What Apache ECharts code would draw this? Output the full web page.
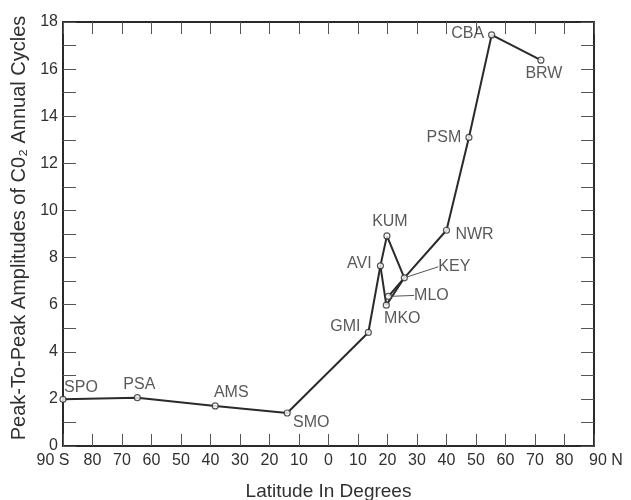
<!DOCTYPE html>
<html>
<head>
<meta charset="utf-8">
<script src="https://cdn.jsdelivr.net/npm/echarts@6/dist/echarts.min.js"></script>
<style>
  html, body { margin: 0; padding: 0; background: #fff; }
  #chart { width: 631px; height: 500px; }
</style>
</head>
<body>
<div id="chart"></div>
<script>
// Monitoring stations, their latitude (negative = south) and the
// peak-to-peak amplitude of the seasonal CO2 cycle (ppm).
const stations  = ['SPO', 'PSA', 'AMS', 'SMO', 'GMI', 'AVI', 'KUM', 'MKO', 'MLO', 'KEY', 'NWR', 'PSM', 'CBA', 'BRW'];
const latitude  = [-90, -64.8, -38.4, -14.0, 13.5, 17.6, 19.8, 19.6, 20.3, 25.7, 40.0, 47.6, 55.3, 72.0];
const amplitude = [1.98, 2.05, 1.70, 1.40, 4.82, 7.65, 8.92, 5.98, 6.35, 7.14, 9.16, 13.1, 17.45, 16.38];

// Order in which the stations are joined by line segments.
const mainPath = ['SPO', 'PSA', 'AMS', 'SMO', 'GMI', 'AVI', 'KUM', 'KEY', 'NWR', 'PSM', 'CBA', 'BRW'];
const branchA  = ['AVI', 'MKO', 'KEY'];
const branchB  = ['MLO', 'KEY'];

// Axis ranges and tick spacing.
const latRange = [-90, 90];
const latStep  = 10;
const ampRange = [0, 18];
const ampStep  = 1;

// Label placement for each station (pixel shift from the marker centre).
const labelShift = {
  SPO: [18, -12], PSA: [2, -13], AMS: [16, -13], SMO: [24, 10],
  GMI: [-23, -6], AVI: [-21, -2], KUM: [3, -14], MKO: [16, 13],
  MLO: [43, -1], KEY: [50, -11], NWR: [28, 4], PSM: [-25, 0],
  CBA: [-24, -1], BRW: [3, 13]
};
const leaderLabels = ['KEY', 'MLO'];

const FONT = 'Liberation Sans, Arial, Helvetica, sans-serif';
const INK = '#2a2a2a';
const TEXT = '#303030';

function pathData(names) {
  return names.map(n => {
    const i = stations.indexOf(n);
    return [latitude[i], amplitude[i]];
  });
}

const pointData = stations.map((s, i) => {
  const item = { name: s, value: [latitude[i], amplitude[i]] };
  if (leaderLabels.includes(s)) {
    item.labelLine = { show: true, length2: 0, lineStyle: { color: '#555', width: 1 } };
  }
  return item;
});

function lineSeries(names) {
  return {
    type: 'line',
    data: pathData(names),
    showSymbol: false,
    symbol: 'none',
    silent: true,
    z: 3,
    lineStyle: { color: INK, width: 2 },
    animation: false
  };
}

const commonTick = { show: true, inside: true, lineStyle: { color: '#555', width: 1 } };
const frameLine = { show: true, onZero: false, lineStyle: { color: INK, width: 2 } };

const chart = echarts.init(document.getElementById('chart'), null, { renderer: 'canvas' });
chart.setOption({
  backgroundColor: '#fff',
  animation: false,
  grid: { left: 63, right: 37, top: 22, bottom: 54, containLabel: false, outerBoundsMode: 'none' },
  xAxis: [
    {
      type: 'value', position: 'bottom',
      min: latRange[0], max: latRange[1], interval: latStep,
      axisLine: frameLine,
      axisTick: Object.assign({ length: 12 }, commonTick),
      splitLine: { show: false },
      axisLabel: {
        margin: 7, fontSize: 16, fontFamily: FONT, color: TEXT,
        formatter: v => v === -90 ? '{s|90 S}' : v === 90 ? '{n|90 N}' : String(Math.abs(v)),
        rich: {
          s: { fontSize: 16, fontFamily: FONT, color: TEXT, padding: [0, 20, 0, 0] },
          n: { fontSize: 16, fontFamily: FONT, color: TEXT, padding: [0, 0, 0, 24] }
        }
      },
      name: 'Latitude In Degrees', nameLocation: 'middle', nameGap: 36,
      nameTextStyle: { fontSize: 19, fontFamily: FONT, color: TEXT }
    },
    {
      type: 'value', position: 'top',
      min: latRange[0], max: latRange[1], interval: latStep,
      axisLine: frameLine,
      axisTick: Object.assign({ length: 12 }, commonTick),
      splitLine: { show: false },
      axisLabel: { show: false }
    }
  ],
  yAxis: [
    {
      type: 'value', position: 'left',
      min: ampRange[0], max: ampRange[1], interval: ampStep,
      axisLine: frameLine,
      axisTick: Object.assign({ length: 13 }, commonTick),
      splitLine: { show: false },
      axisLabel: {
        margin: 5, fontSize: 16, fontFamily: FONT, color: TEXT,
        formatter: v => (v % 2 === 0 ? String(v) : '')
      },
      name: 'Peak-To-Peak Amplitudes of C0\u2082 Annual Cycles',
      nameLocation: 'middle', nameGap: 20, nameRotate: 90,
      nameTextStyle: { fontSize: 20, fontFamily: FONT, color: TEXT, padding: [0, 0, 0, 12] }
    },
    {
      type: 'value', position: 'right',
      min: ampRange[0], max: ampRange[1], interval: ampStep,
      axisLine: frameLine,
      axisTick: Object.assign({ length: 13 }, commonTick),
      splitLine: { show: false },
      axisLabel: { show: false }
    }
  ],
  series: [
    lineSeries(mainPath),
    lineSeries(branchA),
    lineSeries(branchB),
    {
      type: 'scatter',
      data: pointData,
      symbol: 'circle',
      symbolSize: 6,
      z: 5,
      itemStyle: { color: '#fff', borderColor: INK, borderWidth: 1.2 },
      label: {
        show: true,
        position: 'inside',
        align: 'center',
        verticalAlign: 'middle',
        formatter: p => p.name,
        fontSize: 16, fontFamily: FONT, color: TEXT
      },
      labelLayout: p => {
        const d = labelShift[stations[p.dataIndex]];
        return { dx: d[0], dy: d[1] };
      },
      labelLine: { show: false }
    }
  ]
});
</script>
</body>
</html>
